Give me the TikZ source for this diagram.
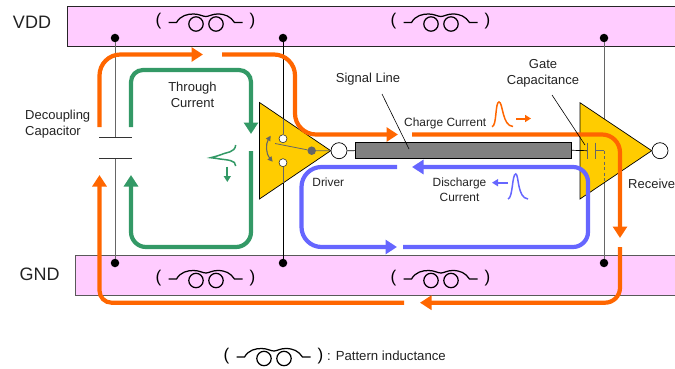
\documentclass[tikz,border=0pt]{standalone}
\usepackage{fontspec}
\setmainfont{Liberation Sans}
\usetikzlibrary{arrows.meta,calc}
\definecolor{railpink}{HTML}{FFCCFF}
\definecolor{gateyellow}{HTML}{FFCC00}
\definecolor{curorange}{HTML}{FF6600}
\definecolor{curgreen}{HTML}{339966}
\definecolor{curblue}{HTML}{6666FF}
\definecolor{wiregray}{HTML}{666666}
\definecolor{txt}{HTML}{222222}
\tikzset{
  x=1pt,y=-1pt,
  rail/.style={line width=0.9pt,fill=railpink},
  gatetri/.style={draw=black,line width=0.7pt,fill=gateyellow},
  junction/.style={circle,fill=black,inner sep=0pt,minimum size=8.5pt},
  pin/.style={circle,draw=black,fill=white,line width=0.7pt,inner sep=0pt,minimum size=16pt},
  smallpin/.style={circle,draw=black!80,fill=white,line width=0.6pt,inner sep=0pt,minimum size=8pt},
  lab/.style={font=\fontsize{13}{16.2}\selectfont,text=txt,align=center,inner sep=0pt},
  slab/.style={font=\fontsize{11.9}{15.3}\selectfont,text=txt,align=center,inner sep=0pt},
  wire/.style={draw=wiregray,line width=0.8pt},
  bwire/.style={draw=black,line width=0.7pt},
  cur/.style={line width=4.2pt},
  curtip/.style={-{Triangle[length=11.5pt,width=14pt]}},
  pulse/.style={line width=1.5pt},
  minitip/.style={line width=2pt,-{Triangle[length=6pt,width=7pt]}},
  ind/.pic={
    \draw[line width=1.25pt] (-37,0) -- (-29,0) .. controls (-25,-7) and (-18,-8.5) .. (-12,-8.5)
      .. controls (-6,-8.5) and (-3,-6) .. (0.5,-6) .. controls (3,-6) and (7,-8.5) .. (12,-8.5)
      .. controls (20,-8.5) and (25,-6) .. (29,0) -- (37,0);
    \draw[line width=1.25pt] (-9.5,1.5) circle[radius=7.2pt];
    \draw[line width=1.25pt] (10.5,1.5) circle[radius=7.2pt];
    \node[font=\fontsize{17}{17}\selectfont,inner sep=0pt] at (-47,-1) {(};
    \node[font=\fontsize{17}{17}\selectfont,inner sep=0pt] at (47,-1) {)};
  }
}
\begin{document}
\begin{tikzpicture}
\useasboundingbox (0,0) rectangle (675,369);
% rails
\path[rail,draw=black!85] (67,6) rectangle (676,46);
\path[rail,draw=black!65] (75,255) rectangle (676,295);
\node[font=\fontsize{18}{18}\selectfont,text=txt,inner sep=0pt] (vddlab) at (32,22.7) {VDD};
\node[font=\fontsize{18}{18}\selectfont,text=txt,inner sep=0pt] (gndlab) at (39.5,274.5) {GND};
% inductors
\pic at (205.5,22.5) {ind};
\pic at (440.5,22.5) {ind};
\pic at (205.5,279) {ind};
\pic at (440.5,279) {ind};
\pic at (273.5,357) {ind};
\node[font=\fontsize{13.2}{15}\selectfont,text=txt,inner sep=0pt,anchor=west] (legend) at (327,356) {: Pattern inductance};
% junctions
\node[junction] (v1) at (115,38) {};
\node[junction] (v2) at (283,38) {};
\node[junction] (v3) at (604,38) {};
\node[junction] (g1) at (115,263) {};
\node[junction] (g2) at (283,263) {};
\node[junction] (g3) at (604,263) {};
% supply lines behind gates
\coordinate (captop) at (115,137.5);
\coordinate (capbot) at (115,158.7);
\draw[wire] (v1) -- (captop);
\draw[wire] (capbot) -- (g1);
\draw[line width=0.8pt,draw=black!80] (99,137.5) -- (132,137.5);
\draw[line width=0.8pt,draw=black!80] (99,158.7) -- (132,158.7);
\draw[bwire] (v2) -- (g2);
\draw[wire] (v3) -- (g3);
% gates
\draw[gatetri] (259.5,102.5) -- (330.7,150.7) -- (259.5,199) -- cycle;
\draw[gatetri] (580,102.7) -- (651.7,150.7) -- (580,199) -- cycle;
% driver inside
\node[smallpin] (s1) at (283,138.7) {};
\node[smallpin] (s2) at (283,162.7) {};
\draw[wire] (283,118.5) -- (s1);
\draw[wire] (s2) -- (283,183);
\node[circle,fill=wiregray,inner sep=0pt,minimum size=8.5pt] (sw) at (311.7,150.7) {};
\coordinate (swend) at (275,143.5);
\draw[wire] (swend) -- (sw) -- (330.7,150.7);
\draw[wire,line width=1.1pt,{Triangle[length=5pt,width=5pt]}-{Triangle[length=5pt,width=5pt]}] (270.7,135.7) .. controls (265.5,144) and (266,154) .. (272.7,161.7);
% output pins, signal line
\node[pin] (o1) at (339,150.7) {};
\node[pin] (o2) at (660,150.7) {};
\node[draw=black,line width=0.8pt,fill=black!50,inner sep=0pt,minimum width=216pt,minimum height=16pt] (sig) at (463.7,150.3) {};
\draw[bwire] (o1) -- (sig);
% gate capacitance
\coordinate (gc1) at (587.5,150.7);
\coordinate (gc2) at (595.7,150.7);
\coordinate (gc3) at (604,150.7);
\draw[bwire] (sig.east) -- (gc1);
\draw[wire] (587.5,142.5) -- (587.5,159);
\draw[wire] (595.7,142.5) -- (595.7,159);
\draw[wire] (gc2) -- (gc3);
\draw[wire,dashed,dash pattern=on 3pt off 2.5pt] (gc3) -- (604,183);
% currents
\draw[cur,curorange,curtip,rounded corners=21pt] (99.5,127) -- (99.5,54.5) -- (203,54.5);
\draw[cur,curorange,curtip,rounded corners=21pt] (222,54.5) -- (295,54.5) -- (295,134.5) -- (398,134.5);
\draw[cur,curorange,curtip,rounded corners=18pt] (412,134.5) -- (620,134.5) -- (620,238);
\draw[cur,curorange,curtip,rounded corners=15pt] (620,247) -- (620,302.7) -- (420,302.7);
\draw[cur,curorange,curtip,rounded corners=12pt] (404,302.7) -- (99.5,302.7) -- (99.5,175);
\draw[cur,curgreen,curtip,rounded corners=12pt] (131,127) -- (131,70) -- (251,70) -- (251,134);
\draw[cur,curgreen,curtip,rounded corners=15pt] (251,151) -- (251,247) -- (131,247) -- (131,175);
\draw[cur,curblue,curtip,rounded corners=20pt] (397,167) -- (301.5,167) -- (301.5,247) -- (397,247);
\draw[cur,curblue,curtip,rounded corners=15pt] (403,247) -- (588,247) -- (588,167) -- (412,167);
% pulses
\draw[pulse,curorange] (492,126.7) .. controls (497,126) and (495,102) .. (499,102) .. controls (503,102) and (502,126) .. (513,126.5);
\draw[minitip,curorange] (516,118.5) -- (531,118.5);
\draw[pulse,curgreen] (235.7,145) .. controls (235,153) and (226,152) .. (220,155) .. controls (216,156.5) and (213,157) .. (210.7,157.7) .. controls (214,158) and (217,158.5) .. (220,159) .. controls (227,160) and (236,160) .. (235.7,166);
\draw[minitip,curgreen] (227.3,166.7) -- (227.3,182);
\draw[pulse,curblue] (508,199) .. controls (513,198) and (512,174) .. (515.7,174) .. controls (519,174) and (517,198) .. (528,199);
\draw[minitip,curblue] (508,182.7) -- (492,182.7);
% labels
\node[lab,align=left,anchor=west] (dec) at (25,124) {Decoupling\\Capacitor};
\node[lab] (thr) at (192.5,94.5) {Through\\Current};
\node[lab] (sigl) at (368,79.5) {Signal Line};
\node[lab] (gate) at (543,73.5) {Gate\\Capacitance};
\node[slab,anchor=west] (chg) at (404,123) {Charge Current};
\node[slab] (drv) at (328.3,182) {Driver};
\node[lab,anchor=west] (rcv) at (628,184) {Receive};
\node[slab] (dis) at (459.5,190) {Discharge\\Current};
% leaders
\coordinate (sigtip) at (409,149);
\coordinate (gatetip) at (585,145);
\draw[line width=0.6pt] (382,94) -- (sigtip);
\draw[line width=0.6pt] (552,95) -- (gatetip);
\end{tikzpicture}
\end{document}
